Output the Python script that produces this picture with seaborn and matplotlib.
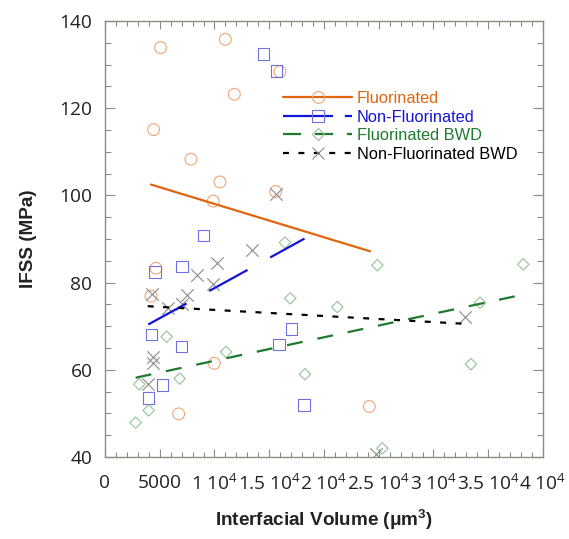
import matplotlib
matplotlib.use("Agg")
import matplotlib.pyplot as plt
from matplotlib.lines import Line2D
from matplotlib.ticker import MultipleLocator, FixedLocator, FixedFormatter
import numpy as np
import pandas as pd
import seaborn as sns

# --- measured data -------------------------------------------------------
fl_x = [5080, 10990, 15980, 11810, 4440, 7850, 10500, 9890, 15590, 4660, 4200, 9980, 6730, 24140]
fl_y = [133.9, 135.8, 128.4, 123.2, 115.1, 108.3, 103.1, 98.7, 100.9, 83.3, 76.9, 61.5, 49.9, 51.6]

nf_x = [14460, 15680, 8980, 4570, 7060, 4260, 7000, 5270, 3960, 17020, 15890, 18200]
nf_y = [132.4, 128.5, 90.8, 82.5, 83.7, 68.1, 65.4, 56.5, 53.6, 69.4, 65.8, 51.9]

fb_x = [16440, 16920, 5630, 11050, 6820, 18260, 3130, 3990, 2800, 21220, 24870, 34250, 33420, 38200, 25330]
fb_y = [89.2, 76.4, 67.6, 64.1, 58.0, 59.0, 56.7, 50.7, 47.9, 74.4, 84.0, 75.4, 61.3, 84.2, 42.0]

nb_x = [15620, 13400, 10260, 8370, 9830, 7460, 4260, 5780, 7000, 4410, 4410, 3950, 32880, 24750]
nb_y = [100.4, 87.6, 84.4, 81.7, 79.6, 77.2, 77.5, 74.2, 75.0, 63.0, 61.6, 56.8, 72.2, 40.6]

# linear trend lines (end points of each fit)
fl_fit_x = [4200, 24200]
fl_fit_y = [102.5, 87.2]
nf_fit_x = [3950, 18220]
nf_fit_y = [70.4, 90.1]
fb_fit_x = [2800, 38050]
fb_fit_y = [58.2, 77.2]
nb_fit_x = [3900, 32570]
nb_fit_y = [74.6, 70.6]

series_names = ["Fluorinated", "Non-Fluorinated", "Fluorinated BWD", "Non-Fluorinated BWD"]

x_ticks = [0, 5000, 10000, 15000, 20000, 25000, 30000, 35000, 40000]
x_tick_labels = ["0", "5000", "1 10$^4$", "1.5 10$^4$", "2 10$^4$", "2.5 10$^4$",
                 "3 10$^4$", "3.5 10$^4$", "4 10$^4$"]
y_ticks = [40, 60, 80, 100, 120, 140]

# --- style ---------------------------------------------------------------
sns.set_style("white")
plt.rcParams["font.family"] = ["Open Sans", "DejaVu Sans"]
plt.rcParams["mathtext.fontset"] = "custom"
plt.rcParams["mathtext.rm"] = "Open Sans"
plt.rcParams["mathtext.it"] = "Open Sans:italic"
plt.rcParams["mathtext.bf"] = "Liberation Sans:bold"
plt.rcParams["mathtext.default"] = "rm"
plt.rcParams["lines.scale_dashes"] = False

line_colors = ["#E2640F", "#1414D8", "#1E7A2E", "#000000"]
mark_colors = ["#F2A576", "#7070E6", "#94C494", "#8A8A8A"]
markers = ["o", "s", "D", "x"]
marker_sizes = [72, 70, 34, 80]
dash_styles = ["-", (0, (31.5, 18.6)), (0, (11.5, 10.8)), (0, (4.3, 6.8))]
legend_dashes = ["-", (0, (36, 8.5)), (0, (13, 10)), (0, (4.3, 6.8))]

fig = plt.figure(figsize=(5.69, 5.39), dpi=100)
ax = fig.add_axes([0.1845, 0.152, 0.7698, 0.809])

points = [(fl_x, fl_y), (nf_x, nf_y), (fb_x, fb_y), (nb_x, nb_y)]
fits = [(fl_fit_x, fl_fit_y), (nf_fit_x, nf_fit_y), (fb_fit_x, fb_fit_y), (nb_fit_x, nb_fit_y)]

for i, (px, py) in enumerate(points):
    df = pd.DataFrame({"x": px, "y": py})
    if markers[i] == "x":
        sns.scatterplot(data=df, x="x", y="y", ax=ax, marker="x", color=mark_colors[i],
                        s=marker_sizes[i], linewidth=0.8, zorder=2, legend=False)
    else:
        sns.scatterplot(data=df, x="x", y="y", ax=ax, marker=markers[i], facecolor="none",
                        edgecolor=mark_colors[i], s=marker_sizes[i], linewidth=0.8,
                        zorder=2, legend=False)

for i, (fx, fy) in enumerate(fits):
    df = pd.DataFrame({"x": fx, "y": fy})
    sns.lineplot(data=df, x="x", y="y", ax=ax, color=line_colors[i], linewidth=1.6,
                 linestyle=dash_styles[i], zorder=3, legend=False)

ax.set_xlim(0, 40000)
ax.set_ylim(40, 140)

ax.xaxis.set_major_locator(FixedLocator(x_ticks))
ax.xaxis.set_major_formatter(FixedFormatter(x_tick_labels))
ax.xaxis.set_minor_locator(MultipleLocator(1000))
ax.yaxis.set_major_locator(FixedLocator(y_ticks))
ax.yaxis.set_minor_locator(MultipleLocator(5))

spine_color = "#8C8C84"
for sp in ax.spines.values():
    sp.set_color(spine_color)
    sp.set_linewidth(1.0)

ax.tick_params(which="both", direction="in", top=True, right=True, bottom=True, left=True,
               color=spine_color, width=0.8, labelcolor="#222222", labelsize=13.8)
ax.tick_params(axis="x", which="major", length=6, pad=12)
ax.tick_params(axis="x", which="minor", length=3.5)
ax.tick_params(axis="y", which="major", length=7, pad=9)
ax.tick_params(axis="y", which="minor", length=4)

label_font = {"family": ["Liberation Sans", "DejaVu Sans"], "size": 13.6, "weight": "bold"}
ax.set_xlabel("Interfacial Volume (\u03bcm$\\mathbf{^3}$)", fontdict=label_font, color="#222222",
              labelpad=10)
ax.set_ylabel("IFSS (MPa)", fontdict=label_font, color="#222222", labelpad=16)

handles = []
for i in range(4):
    handles.append(Line2D([], [], color=line_colors[i], linewidth=1.6, linestyle=legend_dashes[i],
                          marker=markers[i], markersize=np.sqrt(marker_sizes[i]),
                          markerfacecolor="none", markeredgecolor=mark_colors[i],
                          markeredgewidth=0.8))

leg = fig.legend(handles, series_names, loc="upper left", bbox_to_anchor=(0.497, 0.831),
                 frameon=False, handlelength=4.25, handletextpad=0.25, labelspacing=0.215,
                 borderpad=0, borderaxespad=0, prop={"family": "Liberation Sans", "size": 11.8},
                 labelcolor=line_colors)

fig.savefig("out.png", dpi=100)
